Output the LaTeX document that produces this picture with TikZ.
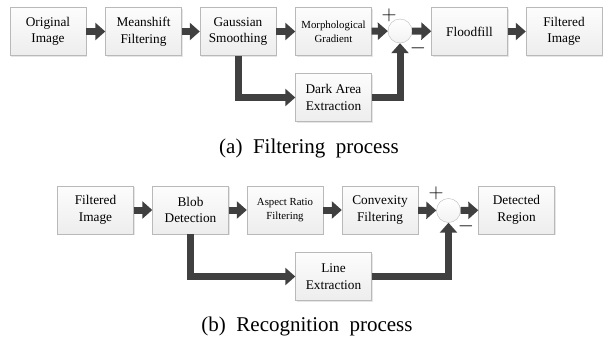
\documentclass[tikz,border=0pt]{standalone}
\usepackage{fontspec}
\setmainfont{Liberation Serif}
\usetikzlibrary{arrows.meta,shadows}
\begin{document}
\begin{tikzpicture}[x=1pt,y=-1pt,
  box/.style={draw=gray!55, top color=gray!2, bottom color=gray!14,
    minimum width=76pt, minimum height=48pt, inner sep=1pt, align=center,
    font=\fontsize{13.3}{16.5}\selectfont,
    drop shadow={shadow xshift=1pt, shadow yshift=-1pt, opacity=0.2}},
  smallbox/.style={box, font=\fontsize{10.8}{14}\selectfont},
  sumnode/.style={circle, draw=gray!55, top color=white, bottom color=gray!10,
    minimum size=24pt, inner sep=0pt},
  flow/.style={draw=black!75, line width=7pt, line join=miter,
    -{Triangle[length=10pt,width=17pt]}},
  sign/.style={inner sep=0pt, font=\fontsize{20}{20}\selectfont},
  caption/.style={inner sep=0pt, font=\fontsize{21}{24}\selectfont}]
\useasboundingbox (0,0) rectangle (605,338);
% (a) Filtering process
\node[box] (b1) at (48,31.5) {Original\\Image};
\node[box] (b2) at (143.5,31.5) {Meanshift\\Filtering};
\node[box] (b3) at (238,31.5) {Gaussian\\Smoothing};
\node[smallbox] (b4) at (333.5,31.5) {Morphological\\Gradient};
\node[sumnode] (s1) at (400,31) {};
\node[box] (b5) at (469.5,31.5) {Floodfill};
\node[box] (b6) at (564,31.5) {Filtered\\Image};
\node[box] (dk) at (333.5,97.5) {Dark Area\\Extraction};
\node[sign] (p1) at (389,15) {$+$};
\node[sign] (m1) at (418,48.5) {$-$};
\draw[flow] (b1) -- (b2);
\draw[flow] (b2) -- (b3);
\draw[flow] (b3) -- (b4);
\draw[flow] (b4) -- (s1);
\draw[flow] (s1) -- (b5);
\draw[flow] (b5) -- (b6);
\draw[flow] (b3.south) |- (dk.west);
\draw[flow] (dk.east) -| (s1.south);
\node[caption] (capa) at (309,148) {(a)\ \ Filtering\ \ process};
% (b) Recognition process
\node[box] (c1) at (95.5,210) {Filtered\\Image};
\node[box] (c2) at (190.5,210) {Blob\\Detection};
\node[smallbox] (c3) at (285,210) {Aspect Ratio\\Filtering};
\node[box] (c4) at (380,210) {Convexity\\Filtering};
\node[sumnode] (s2) at (448.5,210.5) {};
\node[box] (c5) at (516.5,210) {Detected\\Region};
\node[box] (ln) at (333.5,276.5) {Line\\Extraction};
\node[sign] (p2) at (436,193) {$+$};
\node[sign] (m2) at (466,226.5) {$-$};
\draw[flow] (c1) -- (c2);
\draw[flow] (c2) -- (c3);
\draw[flow] (c3) -- (c4);
\draw[flow] (c4) -- (s2);
\draw[flow] (s2) -- (c5);
\draw[flow] (c2.south) |- (ln.west);
\draw[flow] (ln.east) -| (s2.south);
\node[caption] (capb) at (307,326) {(b)\ \ Recognition\ \ process};
\end{tikzpicture}
\end{document}
